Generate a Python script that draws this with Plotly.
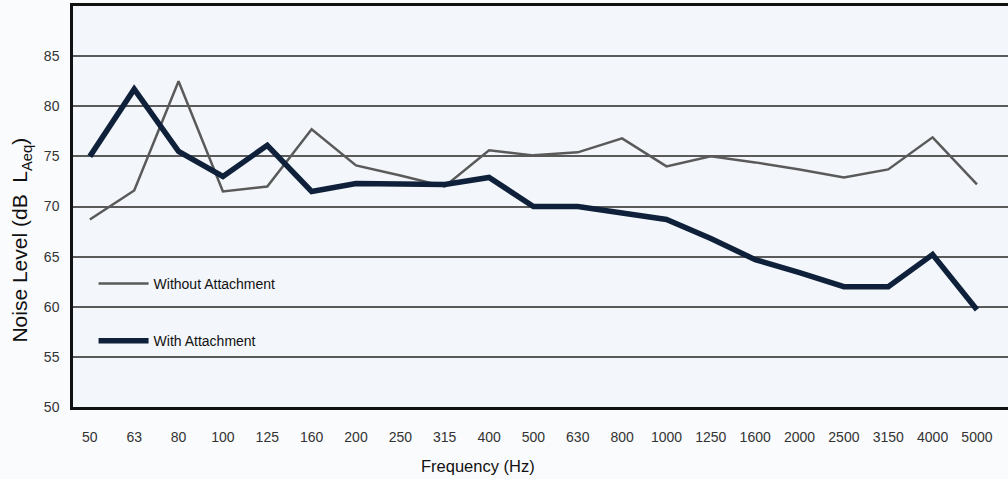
import plotly.graph_objects as go

freqs = ["50", "63", "80", "100", "125", "160", "200", "250", "315", "400", "500",
         "630", "800", "1000", "1250", "1600", "2000", "2500", "3150", "4000", "5000"]
without_attachment = [68.7, 71.6, 82.5, 71.5, 72.0, 77.7, 74.1, 73.1, 72.0, 75.6, 75.1,
                      75.4, 76.8, 74.0, 75.0, 74.4, 73.7, 72.9, 73.7, 76.9, 72.2]
with_attachment = [75.0, 81.7, 75.5, 73.0, 76.1, 71.5, 72.3, 72.2, 72.2, 72.9, 70.0,
                   70.0, 69.4, 68.7, 66.8, 64.7, 63.4, 62.0, 62.0, 65.2, 59.7]
y_ticks = [50, 55, 60, 65, 70, 75, 80, 85]

FONT = "Liberation Sans, Arial, sans-serif"

fig = go.Figure()
fig.add_trace(go.Scatter(
    x=freqs, y=without_attachment, mode="lines", name="Without Attachment",
    line=dict(color="#5a5a5a", width=2.5), legendgroup="a"))
fig.add_trace(go.Scatter(
    x=freqs, y=with_attachment, mode="lines", name="With Attachment",
    line=dict(color="#0f213a", width=5.5), legendgroup="b"))

fig.update_layout(
    width=1008, height=479,
    margin=dict(l=73, r=0, t=6, b=72),
    paper_bgcolor="#fafbfd",
    plot_bgcolor="#f3f6fa",
    font=dict(family=FONT, size=13, color="#222"),
    showlegend=True,
    legend=dict(x=0.022, y=0.236, xanchor="left", yanchor="middle",
                bgcolor="rgba(0,0,0,0)", tracegroupgap=36, itemwidth=50,
                font=dict(size=14, color="#111")),
    xaxis=dict(
        type="category", range=[-0.38, 20.7],
        showgrid=False, showline=True, linecolor="#111", linewidth=2.5, mirror=True,
        ticks="outside", ticklen=15, tickcolor="rgba(0,0,0,0)",
        tickfont=dict(size=14, color="#333"), zeroline=False),
    yaxis=dict(
        range=[50, 90], tickvals=y_ticks,
        showgrid=True, gridcolor="#5a5a5a", gridwidth=1.5,
        showline=True, linecolor="#111", linewidth=2.5, mirror=False,
        ticks="outside", ticklen=8, tickcolor="rgba(0,0,0,0)",
        tickfont=dict(size=14, color="#333"), zeroline=False),
    annotations=[
        dict(text="Noise Level (dB  L<sub>Aeq</sub>)", textangle=-90,
             xref="paper", yref="paper", x=-0.0556, y=0.415,
             xanchor="center", yanchor="middle", showarrow=False,
             font=dict(size=21, color="#111")),
        dict(text="Frequency (Hz)", xref="paper", yref="paper",
             x=0.433, y=-0.147, xanchor="center", yanchor="middle",
             showarrow=False, font=dict(size=16.5, color="#111")),
    ],
)

fig.write_html("out.html", config={"displayModeBar": False},
               post_script="document.body.style.margin='0';document.body.style.overflow='hidden';")
